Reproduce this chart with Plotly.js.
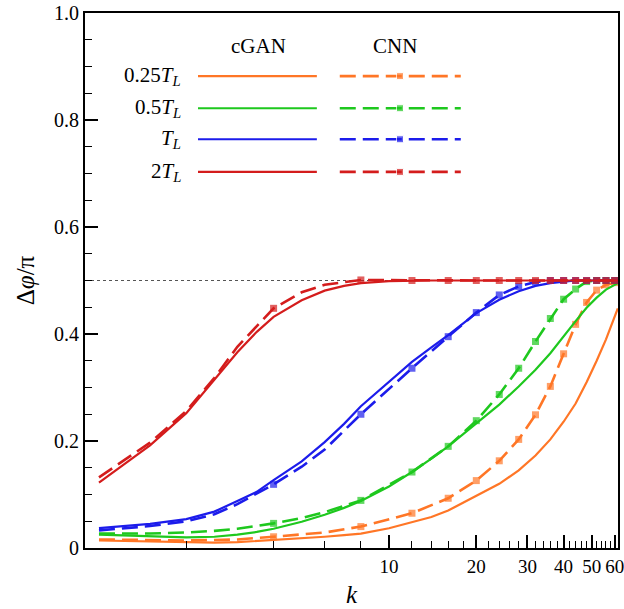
<!DOCTYPE html>
<html>
<head>
<meta charset="utf-8">
<script src="https://cdn.plot.ly/plotly-3.0.1.min.js"></script>
<style>html,body{margin:0;padding:0;background:#fff;}#chart{width:624px;height:609px;}</style>
</head>
<body>
<div id="chart"></div>
<script>
// ---- data ----
const kCgan = [1, 1.5, 2, 2.5, 3, 3.5, 4, 5, 6, 7, 8, 10, 12, 14, 16, 20, 24, 28, 32, 36, 40, 44, 48, 52, 56, 61.5];
const cgan025TL = [0.014, 0.012, 0.010, 0.010, 0.011, 0.013, 0.015, 0.018, 0.021, 0.024, 0.027, 0.037, 0.048, 0.058, 0.070, 0.097, 0.120, 0.145, 0.173, 0.203, 0.236, 0.270, 0.310, 0.350, 0.390, 0.448];
const cgan05TL  = [0.025, 0.022, 0.020, 0.021, 0.025, 0.030, 0.036, 0.049, 0.062, 0.075, 0.088, 0.115, 0.142, 0.167, 0.190, 0.233, 0.268, 0.302, 0.333, 0.364, 0.396, 0.424, 0.449, 0.468, 0.483, 0.495];
const cganTL    = [0.037, 0.045, 0.054, 0.068, 0.088, 0.105, 0.127, 0.162, 0.198, 0.232, 0.265, 0.310, 0.348, 0.375, 0.398, 0.439, 0.464, 0.480, 0.490, 0.495, 0.498, 0.500, 0.500, 0.500, 0.500, 0.500];
const cgan2TL   = [0.122, 0.192, 0.252, 0.315, 0.366, 0.404, 0.432, 0.463, 0.481, 0.490, 0.495, 0.499, 0.500, 0.500, 0.500, 0.500, 0.500, 0.500, 0.500, 0.500, 0.500, 0.500, 0.500, 0.500, 0.500, 0.500];

const kCnn = [1, 1.5, 2, 2.5, 3, 4, 5, 6, 8, 12, 16, 20, 24, 28, 32, 36, 40, 44, 48, 52, 56, 60];
const cnn025TL = [0.016, 0.015, 0.014, 0.015, 0.016, 0.021, 0.025, 0.029, 0.040, 0.065, 0.093, 0.126, 0.163, 0.203, 0.249, 0.302, 0.363, 0.418, 0.459, 0.482, 0.492, 0.496];
const cnn05TL  = [0.027, 0.027, 0.029, 0.032, 0.036, 0.046, 0.056, 0.067, 0.089, 0.142, 0.190, 0.238, 0.287, 0.336, 0.386, 0.429, 0.465, 0.484, 0.498, 0.500, 0.500, 0.500];
const cnnTL    = [0.033, 0.041, 0.050, 0.063, 0.082, 0.119, 0.152, 0.184, 0.250, 0.336, 0.395, 0.440, 0.473, 0.489, 0.497, 0.500, 0.500, 0.500, 0.500, 0.500, 0.500, 0.500];
const cnn2TL   = [0.132, 0.197, 0.256, 0.318, 0.376, 0.448, 0.478, 0.492, 0.501, 0.500, 0.500, 0.500, 0.500, 0.500, 0.500, 0.500, 0.500, 0.500, 0.500, 0.500, 0.500, 0.500];

const seriesNames = ["0.25<i>T</i><sub><i>L</i></sub>", "0.5<i>T</i><sub><i>L</i></sub>", "<i>T</i><sub><i>L</i></sub>", "2<i>T</i><sub><i>L</i></sub>"];
const colors = ["#ff7626", "#1ec81e", "#1c1ceb", "#d41c1c"];
const xTickVals = [10, 20, 30, 40, 50, 60];
const xMinorVals = [2, 4, 6, 8, 12, 14, 16, 18, 22, 24, 26, 28, 32, 34, 36, 38, 42, 44, 46, 48, 52, 54, 56, 58];
const yTickVals = [0, 0.2, 0.4, 0.6, 0.8, 1.0];
const yTickText = ["0", "0.2", "0.4", "0.6", "0.8", "1.0"];
const limitValue = 0.5;

// ---- build ----
const cganAll = [cgan025TL, cgan05TL, cganTL, cgan2TL];
const cnnAll = [cnn025TL, cnn05TL, cnnTL, cnn2TL];
const DASH = "16px,7px";
const markerSizes = kCnn.map(k => (k >= 4 && k % 4 === 0) ? 7 : 0);

const traces = [];
for (let i = 0; i < 4; i++) {
  traces.push({x: kCgan, y: cganAll[i], mode: "lines", line: {color: colors[i], width: 2.2}, showlegend: false, hoverinfo: "skip"});
  traces.push({x: kCnn, y: cnnAll[i], mode: "lines+markers", line: {color: colors[i], width: 2.6, dash: DASH},
    marker: {symbol: "square", size: markerSizes, color: colors[i], line: {width: 0}}, showlegend: false, hoverinfo: "skip"});
}

// legend drawn on a hidden overlay axis (paper-like 0..1)
const legRowY = [0.882, 0.822, 0.764, 0.703];
const legSolidX = [0.212, 0.435];
const legDashX = [0.478, 0.591, 0.705];
const legFont = {family: "Liberation Serif", size: 21, color: "#000"};
const annotations = [
  {xref: "paper", yref: "paper", x: 0.326, y: 0.938, xanchor: "center", yanchor: "middle", text: "cGAN", showarrow: false, font: legFont},
  {xref: "paper", yref: "paper", x: 0.582, y: 0.938, xanchor: "center", yanchor: "middle", text: "CNN", showarrow: false, font: legFont}
];
for (let i = 0; i < 4; i++) {
  traces.push({x: legSolidX, y: [legRowY[i], legRowY[i]], xaxis: "x2", yaxis: "y2", mode: "lines", line: {color: colors[i], width: 2.2}, showlegend: false, hoverinfo: "skip"});
  traces.push({x: legDashX, y: [legRowY[i], legRowY[i], legRowY[i]], xaxis: "x2", yaxis: "y2", mode: "lines+markers",
    line: {color: colors[i], width: 2.6, dash: DASH}, marker: {symbol: "square", size: [0, 7, 0], color: colors[i]}, showlegend: false, hoverinfo: "skip"});
  annotations.push({xref: "paper", yref: "paper", x: 0.183, y: legRowY[i], xanchor: "right", yanchor: "middle", text: seriesNames[i], showarrow: false,
    font: legFont});
}

const layout = {
  width: 624, height: 609,
  margin: {l: 85, r: 6, t: 13, b: 61},
  paper_bgcolor: "#fff", plot_bgcolor: "#fff",
  showlegend: false,
  xaxis: {
    type: "log", range: [Math.log10(0.895), Math.log10(61.6)],
    tickmode: "array", tickvals: xTickVals, ticktext: xTickVals.map(String),
    ticks: "inside", ticklen: 13, tickwidth: 2, tickcolor: "#000", ticklabeloverflow: "allow",
    showline: true, linewidth: 2, linecolor: "#000", mirror: true,
    showgrid: false, zeroline: false, tickfont: {family: "Liberation Serif", size: 19, color: "#000"},
    minor: {tickmode: "array", tickvals: xMinorVals, ticks: "inside", ticklen: 7, tickwidth: 1, tickcolor: "#000", showgrid: false},
    title: {text: "<i>k</i>", font: {family: "Liberation Serif", size: 25, color: "#000"}, standoff: 10}
  },
  yaxis: {
    range: [0, 1],
    tickmode: "array", tickvals: yTickVals, ticktext: yTickText,
    ticks: "inside", ticklen: 13, tickwidth: 2, tickcolor: "#000",
    showline: true, linewidth: 2, linecolor: "#000", mirror: true,
    showgrid: false, zeroline: false, tickfont: {family: "Liberation Serif", size: 20, color: "#000"},
    minor: {dtick: 0.05, ticks: "inside", ticklen: 7, tickwidth: 1, tickcolor: "#000", showgrid: false},
    title: {text: "Δ<i>φ</i>/π", font: {family: "Liberation Serif", size: 25, color: "#000"}, standoff: 12}
  },
  xaxis2: {overlaying: "x", range: [0, 1], visible: false, fixedrange: true},
  yaxis2: {overlaying: "y", range: [0, 1], visible: false, fixedrange: true},
  shapes: [
    {type: "line", xref: "paper", yref: "y", x0: 0, x1: 1, y0: limitValue, y1: limitValue, layer: "below",
     line: {color: "#555", width: 1, dash: "dot"}}
  ],
  annotations: annotations
};

Plotly.newPlot("chart", traces, layout, {staticPlot: true, displayModeBar: false});
</script>
</body>
</html>
